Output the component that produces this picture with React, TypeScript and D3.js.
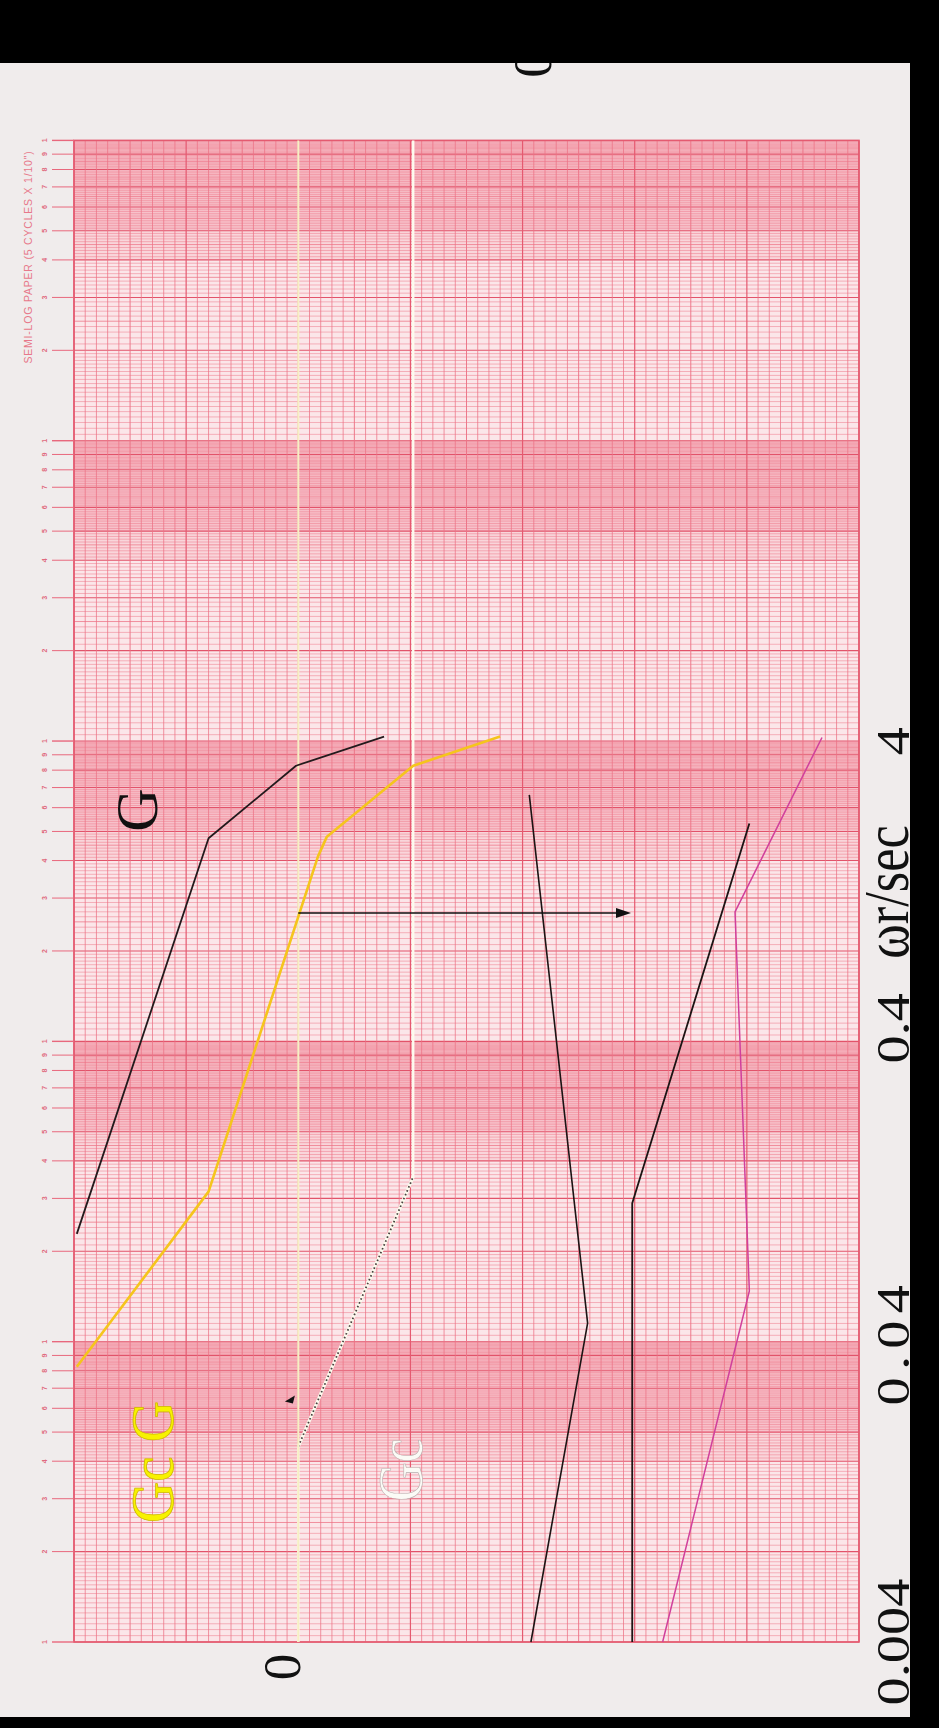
import React, { useEffect, useRef } from 'react';
import * as d3 from 'd3';

// frequency axis, rad/s, 5 log cycles
const decadeStarts = [0.004, 0.04, 0.4, 4, 40];
const freqLabels = ['0.004', '0.04', '0.4', '4'];
const freqLabelValues = [0.004, 0.04, 0.4, 4];

// magnitude asymptotes (dB)
const gFreq = [0.0914, 1.898, 3.31, 4.14];
const gDb = [39.5, 16.0, 0.4, -15.3];
const gcgFreq = [0.033, 0.1264, 1.649, 1.922, 3.31, 4.14];
const gcgDb = [39.5, 16.0, -3.5, -5.1, -20.5, -36.0];
const gcFreq = [0.004, 0.0179, 0.1417, 400];
const gcDb = [0, 0, -20.5, -20.5];

// phase asymptotes (deg)
const gcPhaseFreq = [0.004, 0.0461, 2.646];
const gcPhaseDeg = [-6.7, -52.2, -5.4];
const gPhaseFreq = [0.004, 0.1156, 2.125];
const gPhaseDeg = [-88, -88, -182];
const gcgPhaseFreq = [0.004, 0.059, 1.08, 4.11];
const gcgPhaseDeg = [-112.4, -182, -170.5, -240.3];

// gain crossover of Gc G, carried over to the phase plot
const crossFreq = 1.07;
const crossDb = 0;
const crossPhase = -87;

const WIDTH = 939;
const HEIGHT = 1728;

type Pt = [number, number];
const pairs = (f: number[], v: number[]): Pt[] => f.map((w, i) => [w, v[i]] as Pt);

const App = () => {
  const node = useRef<SVGSVGElement | null>(null);

  useEffect(() => {
    const svg = d3.select(node.current);
    svg.selectAll('*').remove();

    const grid = { left: 74, right: 859, top: 140.4, bottom: 1642 };

    const yScale = d3.scaleLog().domain([0.004, 400]).range([grid.bottom, grid.top]);
    const dbScale = d3.scaleLinear().domain([40, -100]).range([grid.left, grid.right]);
    const phaseScale = d3.scaleLinear().domain([0, -270]).range([dbScale(-40), dbScale(-100)]);

    const serif = 'Liberation Serif, Times New Roman, serif';

    // rotated text, reading bottom to top; x is the baseline
    const vText = (g: any, str: string, x: number, y: number, size: number, sx: number, fill: string) =>
      g.append('text')
        .attr('transform', `translate(${x},${y}) rotate(-90) scale(${sx},1)`)
        .attr('text-anchor', 'middle')
        .attr('font-family', serif)
        .attr('font-size', size)
        .attr('fill', fill)
        .text(str);

    // paper
    svg.append('rect').attr('width', WIDTH).attr('height', HEIGHT).attr('fill', '#f0ecec');

    const paper = svg.append('g');
    paper.append('rect')
      .attr('x', grid.left).attr('y', grid.top)
      .attr('width', grid.right - grid.left).attr('height', grid.bottom - grid.top)
      .attr('fill', '#fbe6e9');

    // darker tint on the 4..10 part of each cycle
    decadeStarts.forEach(d => {
      paper.append('rect')
        .attr('x', grid.left).attr('width', grid.right - grid.left)
        .attr('y', yScale(d * 10)).attr('height', yScale(d * 5) - yScale(d * 10))
        .attr('fill', '#f4a2b0').attr('opacity', 0.55);
      paper.append('rect')
        .attr('x', grid.left).attr('width', grid.right - grid.left)
        .attr('y', yScale(d * 5)).attr('height', yScale(d * 4) - yScale(d * 5))
        .attr('fill', '#f4a2b0').attr('opacity', 0.25);
    });

    // log rulings
    const subdivisions = [...d3.range(100, 200, 5), ...d3.range(200, 1000, 10)].map(v => v / 100);
    decadeStarts.forEach(d => {
      subdivisions.forEach(s => {
        const major = Math.abs(s - Math.round(s)) < 1e-6;
        const half = Math.abs(s * 2 - Math.round(s * 2)) < 1e-6;
        paper.append('line')
          .attr('x1', grid.left).attr('x2', grid.right)
          .attr('y1', yScale(d * s)).attr('y2', yScale(d * s))
          .attr('stroke', major ? '#e2536a' : '#ef7f90')
          .attr('stroke-width', major ? 1.1 : half ? 0.85 : 0.55);
      });
    });

    // linear rulings, 2 dB per division
    d3.range(0, 71).forEach(i => {
      const x = dbScale(40 - i * 2);
      paper.append('line')
        .attr('x1', x).attr('x2', x).attr('y1', grid.top).attr('y2', grid.bottom)
        .attr('stroke', i % 10 === 0 ? '#e55a70' : '#ec7386')
        .attr('stroke-width', i % 10 === 0 ? 1.2 : i % 5 === 0 ? 0.95 : 0.75);
    });

    paper.append('rect')
      .attr('x', grid.left).attr('y', grid.top)
      .attr('width', grid.right - grid.left).attr('height', grid.bottom - grid.top)
      .attr('fill', 'none').attr('stroke', '#e45a70').attr('stroke-width', 1.6);

    // cycle ticks and digits in the left margin
    const tickAt = (y: number, label: string, heavy: boolean) => {
      paper.append('line')
        .attr('x1', 52).attr('x2', grid.left).attr('y1', y).attr('y2', y)
        .attr('stroke', '#e8687d').attr('stroke-width', heavy ? 1.4 : 1);
      paper.append('text')
        .attr('transform', `translate(47,${y}) rotate(-90)`)
        .attr('text-anchor', 'middle')
        .attr('font-family', 'Liberation Sans, sans-serif')
        .attr('font-size', 7).attr('font-weight', 'bold')
        .attr('fill', '#e06a7e')
        .text(label);
    };
    decadeStarts.forEach(d => {
      d3.range(1, 10).forEach(v => tickAt(yScale(d * v), String(v), v === 1));
    });
    tickAt(yScale(400), '1', true);

    paper.append('text')
      .attr('transform', 'translate(32,257) rotate(-90)')
      .attr('text-anchor', 'middle')
      .attr('font-family', 'Liberation Sans, sans-serif')
      .attr('font-size', 10.5)
      .attr('letter-spacing', 0.8)
      .attr('fill', '#e7788a')
      .text('SEMI-LOG PAPER (5 CYCLES X 1/10")');

    // curves
    const magLine = d3.line<Pt>().x(d => dbScale(d[1])).y(d => yScale(d[0]));
    const phaseLine = d3.line<Pt>().x(d => phaseScale(d[1])).y(d => yScale(d[0]));
    const plot = svg.append('g').attr('fill', 'none').attr('stroke-linejoin', 'round');

    // Gc: lag compensator
    plot.append('path')
      .attr('d', magLine(pairs(gcFreq, gcDb)))
      .attr('stroke', '#fdfbee').attr('stroke-width', 2.4);
    plot.append('path')
      .attr('d', magLine(pairs(gcFreq.slice(1, 3), gcDb.slice(1, 3))))
      .attr('stroke', '#fdfbee').attr('stroke-width', 3.2);
    plot.append('path')
      .attr('d', magLine(pairs(gcFreq.slice(1, 3), gcDb.slice(1, 3))))
      .attr('stroke', '#4a4040').attr('stroke-width', 1.8)
      .attr('stroke-dasharray', '1.6 2.6');

    // 0 dB
    plot.append('line')
      .attr('x1', dbScale(0)).attr('x2', dbScale(0))
      .attr('y1', grid.top).attr('y2', grid.bottom)
      .attr('stroke', '#f6f0c4').attr('stroke-width', 2);

    plot.append('path')
      .attr('d', magLine(pairs(gFreq, gDb)))
      .attr('stroke', '#231a1c').attr('stroke-width', 1.8);
    plot.append('path')
      .attr('d', magLine(pairs(gcgFreq, gcgDb)))
      .attr('stroke', '#f5c51c').attr('stroke-width', 2.6);

    plot.append('path')
      .attr('d', phaseLine(pairs(gcPhaseFreq, gcPhaseDeg)))
      .attr('stroke', '#1c1414').attr('stroke-width', 1.6);
    plot.append('path')
      .attr('d', phaseLine(pairs(gPhaseFreq, gPhaseDeg)))
      .attr('stroke', '#1c1414').attr('stroke-width', 1.8);
    plot.append('path')
      .attr('d', phaseLine(pairs(gcgPhaseFreq, gcgPhaseDeg)))
      .attr('stroke', '#d0409c').attr('stroke-width', 1.5);

    // crossover arrow
    const ay = yScale(crossFreq);
    const ax0 = dbScale(crossDb);
    const ax1 = phaseScale(crossPhase);
    plot.append('line')
      .attr('x1', ax0).attr('x2', ax1 - 10).attr('y1', ay).attr('y2', ay)
      .attr('stroke', '#111').attr('stroke-width', 1.6);
    svg.append('path')
      .attr('d', `M${ax1},${ay} L${ax1 - 15},${ay - 5} L${ax1 - 15},${ay + 5} Z`)
      .attr('fill', '#111');

    // small pen mark beside Gc
    const mx = dbScale(1.5);
    const my = yScale(0.0257);
    svg.append('path')
      .attr('d', `M${mx - 5},${my + 2} L${mx + 5},${my - 4} L${mx + 3},${my + 4} Z`)
      .attr('fill', '#111');

    // labels
    const labels = svg.append('g');
    vText(labels, 'G', 157, 810, 60, 1, '#111');
    vText(labels, 'Gc G', 173, 1462, 62, 0.92, '#f7f200')
      .attr('stroke', '#cdb800').attr('stroke-width', 0.8);
    vText(labels, 'Gc', 422, 1470, 63, 0.86, '#fbfbf6')
      .attr('stroke', '#b9afaf').attr('stroke-width', 0.6);

    vText(labels, '0', 300, 1667, 53, 1, '#111');
    vText(labels, '0', 551, 64, 55, 1, '#111');

    freqLabels.forEach((t, i) => {
      const nudge = t === '0.4' ? -13 : 0;
      vText(labels, t, 909, yScale(freqLabelValues[i]) + nudge, 47, 1.2, '#111')
        .attr('letter-spacing', t === '0.04' ? 6 : 0);
    });
    vText(labels, 'ωr/sec', 908, 892, 64, 0.82, '#111');

    // scanner borders
    svg.append('rect').attr('x', 0).attr('y', 0).attr('width', WIDTH).attr('height', 63).attr('fill', '#000');
    svg.append('rect').attr('x', 910).attr('y', 0).attr('width', WIDTH - 910).attr('height', HEIGHT).attr('fill', '#000');
    svg.append('rect').attr('x', 0).attr('y', 1717).attr('width', WIDTH).attr('height', HEIGHT - 1717).attr('fill', '#000');
  }, []);

  return (
    <svg
      ref={node}
      width={WIDTH}
      height={HEIGHT}
      style={{ position: 'absolute', left: 0, top: 0, display: 'block' }}
    />
  );
};

export default App;
